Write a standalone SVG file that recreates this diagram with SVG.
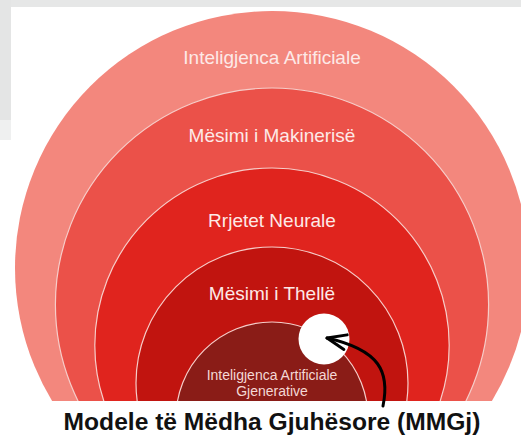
<svg xmlns="http://www.w3.org/2000/svg" width="521" height="437" viewBox="0 0 521 437">
  <style>
    .ring { stroke: #f6cdc9; stroke-width: 1.2; }
    .lbl { font-family: "Liberation Sans", Arial, sans-serif; font-size: 19px; fill: #fde9e7; text-anchor: middle; }
    .sm { font-family: "Liberation Sans", Arial, sans-serif; font-size: 14px; fill: #f4d8d5; text-anchor: middle; }
    .title { font-family: "Liberation Sans", Arial, sans-serif; font-size: 24.6px; font-weight: bold; fill: #111111; text-anchor: middle; }
    .conn { fill: none; stroke: #000000; stroke-width: 3; stroke-linecap: round; }
  </style>
  <defs>
    <clipPath id="cut">
      <rect x="0" y="0" width="521" height="401"/>
    </clipPath>
    <marker id="head" markerUnits="userSpaceOnUse" viewBox="-24 -12 28 24" refX="0" refY="0" markerWidth="28" markerHeight="24" orient="auto">
      <path d="M-19,-7.5 L0,0 L-19,7.5" fill="none" stroke="#000000" stroke-width="3" stroke-linecap="round" stroke-linejoin="round"/>
    </marker>
  </defs>

  <!-- background -->
  <rect x="0" y="0" width="521" height="437" fill="#ffffff"/>
  <rect x="0" y="0" width="521" height="7" fill="#e6e7e7"/>
  <rect x="0" y="0" width="11" height="120" fill="#e4e5e5"/>
  <rect x="0" y="120" width="11" height="20" fill="#eff0f0"/>

  <g clip-path="url(#cut)">
    <g id="ring-ai">
      <circle cx="272" cy="268" r="257" fill="#f3877d"/>
      <text class="lbl" x="272" y="64">Inteligjenca Artificiale</text>
    </g>
    <g id="ring-ml">
      <circle class="ring" cx="272" cy="304.6" r="216.6" fill="#eb5149"/>
      <text class="lbl" x="272" y="142">Mësimi i Makinerisë</text>
    </g>
    <g id="ring-nn">
      <circle class="ring" cx="272" cy="345.2" r="177.2" fill="#e0241e"/>
      <text class="lbl" x="272" y="227">Rrjetet Neurale</text>
    </g>
    <g id="ring-dl">
      <circle class="ring" cx="272" cy="383" r="136" fill="#c1140f"/>
      <text class="lbl" x="272" y="300">Mësimi i Thellë</text>
    </g>
    <g id="ring-genai">
      <circle class="ring" cx="272" cy="418" r="96" fill="#8a1c17"/>
      <text class="sm" x="272" y="380">Inteligjenca Artificiale</text>
      <text class="sm" x="272" y="396">Gjenerative</text>
    </g>
  </g>

  <g id="llm">
    <circle cx="324" cy="339" r="25.5" fill="#ffffff"/>
    <text class="title" x="272" y="430">Modele të Mëdha Gjuhësore (MMGj)</text>
  </g>

  <g id="connectors">
    <path class="conn" d="M383,406 C390,372 380,350 327,338" marker-end="url(#head)"/>
  </g>
</svg>
